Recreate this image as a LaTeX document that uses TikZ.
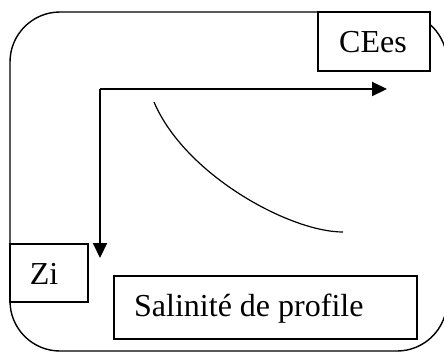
\documentclass[tikz,border=0pt]{standalone}
\usepackage{fontspec}
\setmainfont{Liberation Serif}
\usetikzlibrary{arrows.meta}
\begin{document}
\begin{tikzpicture}[x=1pt,y=-1pt,
  frame/.style={draw=black,line width=1.4pt},
  labelbox/.style={draw=black,fill=white,line width=1.4pt},
  axis/.style={line width=2pt,-{Triangle[length=15pt,width=14pt]}},
  lbl/.style={font=\fontsize{32}{38}\selectfont,inner sep=0pt}]
\useasboundingbox (0,0) rectangle (444,354);
% outer rounded frame
\draw[frame,rounded corners=50pt] (10,12) rectangle (447,351);
% label boxes
\draw[labelbox] (318,12) rectangle (430,71);
\node[lbl,anchor=base] (cees) at (373,52) {CEes};
\draw[labelbox] (10,244) rectangle (88,302);
\node[lbl,anchor=base] (zi) at (44,284) {Zi};
\draw[labelbox] (114,276) rectangle (417,339);
\node[lbl,anchor=base west] (sal) at (134,316) {Salinité de profile};
% axes
\coordinate (o) at (100,89);
\coordinate (xend) at (387,89);
\coordinate (yend) at (100,258);
\draw[axis] (o) -- (xend);
\draw[axis] (o) -- (yend);
% salinity curve
\coordinate (c0) at (154,102);
\coordinate (c1) at (343,232);
\draw[line width=1.2pt] (c0) .. controls (185,175) and (290,232) .. (c1);
\end{tikzpicture}
\end{document}
